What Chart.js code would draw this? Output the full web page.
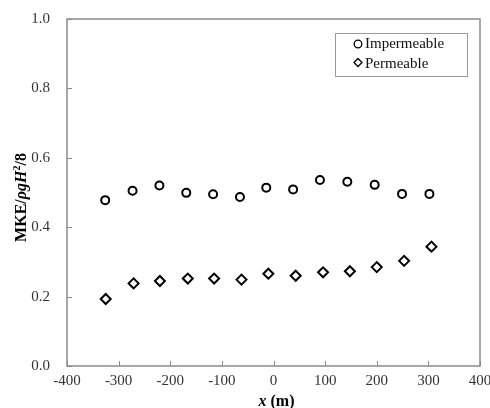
<!DOCTYPE html>
<html>
<head>
<meta charset="utf-8">
<script src="https://cdn.jsdelivr.net/npm/chart.js@4"></script>
<style>
  html, body { margin: 0; padding: 0; background: #fff; }
  #wrap { width: 490px; height: 408px; }
</style>
</head>
<body>
<div id="wrap"><canvas id="c" width="490" height="408"></canvas></div>
<script>
const impermeableX = [-326, -273, -221, -169, -117, -65, -14, 38, 90, 143, 196, 249, 302];
const impermeableY = [0.478, 0.505, 0.520, 0.499, 0.495, 0.487, 0.514, 0.509, 0.536, 0.531, 0.522, 0.496, 0.496];
const permeableX = [-325, -271, -220, -166, -115, -62, -10, 43, 96, 148, 200, 253, 306];
const permeableY = [0.193, 0.238, 0.245, 0.252, 0.252, 0.249, 0.266, 0.260, 0.270, 0.273, 0.285, 0.303, 0.344];
const seriesNames = ['Impermeable', 'Permeable'];
const xTitle = 'x (m)';
const yTitleParts = ['MKE/', 'ρgH', '2', '/8'];

const SERIF = '"Liberation Serif", "Times New Roman", serif';
const AXIS_GRAY = '#8a8a8a';

const decor = {
  id: 'decor',
  afterDraw(chart) {
    const ctx = chart.ctx;
    const a = chart.chartArea;
    const xs = chart.scales.x, ys = chart.scales.y;
    ctx.save();
    // frame
    ctx.strokeStyle = AXIS_GRAY;
    ctx.lineWidth = 1.5;
    ctx.strokeRect(a.left, a.top, a.right - a.left, a.bottom - a.top);
    // inward ticks
    ctx.lineWidth = 1;
    ctx.beginPath();
    ys.ticks.forEach(t => {
      const y = Math.round(ys.getPixelForValue(t.value)) + 0.5;
      ctx.moveTo(a.left, y); ctx.lineTo(a.left + 5, y);
    });
    xs.ticks.forEach(t => {
      const x = Math.round(xs.getPixelForValue(t.value)) + 0.5;
      ctx.moveTo(x, a.bottom); ctx.lineTo(x, a.bottom - 5);
    });
    ctx.stroke();

    // legend
    const lx = 335, ly = 33, lw = 132, lh = 43;
    ctx.fillStyle = '#fff';
    ctx.fillRect(lx, ly, lw, lh);
    ctx.strokeStyle = '#9a9a9a';
    ctx.lineWidth = 1;
    ctx.strokeRect(lx + 0.5, ly + 0.5, lw, lh);
    ctx.strokeStyle = '#000';
    ctx.lineWidth = 1.3;
    ctx.beginPath();
    ctx.arc(358, 44, 3.8, 0, Math.PI * 2);
    ctx.stroke();
    ctx.beginPath();
    ctx.moveTo(358, 58.5); ctx.lineTo(362, 62.5); ctx.lineTo(358, 66.5); ctx.lineTo(354, 62.5); ctx.closePath();
    ctx.stroke();
    ctx.fillStyle = '#111';
    ctx.font = '15px ' + SERIF;
    ctx.textBaseline = 'middle';
    ctx.textAlign = 'left';
    ctx.fillText(seriesNames[0], 365, 44);
    ctx.fillText(seriesNames[1], 365, 64);

    // x title
    ctx.fillStyle = '#000';
    ctx.textBaseline = 'alphabetic';
    const xi = 'bold italic 16px ' + SERIF, xb = 'bold 16px ' + SERIF;
    ctx.font = xi; const w1 = ctx.measureText('x').width;
    ctx.font = xb; const w2 = ctx.measureText(' (m)').width;
    let sx = (a.left + a.right) / 2 + 3 - (w1 + w2) / 2;
    ctx.font = xi; ctx.fillText('x', sx, 406);
    ctx.font = xb; ctx.fillText(' (m)', sx + w1, 406);

    // y title (rotated)
    ctx.translate(26, (a.top + a.bottom) / 2 + 5);
    ctx.rotate(-Math.PI / 2);
    const fonts = ['bold 16px ' + SERIF, 'bold italic 16px ' + SERIF, 'bold 10px ' + SERIF, 'bold 16px ' + SERIF];
    const widths = yTitleParts.map((p, i) => { ctx.font = fonts[i]; return ctx.measureText(p).width; });
    const total = widths.reduce((s, v) => s + v, 0);
    let px = -total / 2;
    yTitleParts.forEach((p, i) => {
      ctx.font = fonts[i];
      ctx.fillText(p, px, i === 2 ? -6 : 0);
      px += widths[i];
    });
    ctx.restore();
  }
};

new Chart(document.getElementById('c'), {
  type: 'scatter',
  data: {
    datasets: [
      {
        label: seriesNames[0],
        data: impermeableX.map((x, i) => ({ x, y: impermeableY[i] })),
        pointStyle: 'circle',
        pointRadius: 4,
        borderWidth: 2,
        borderColor: '#000',
        backgroundColor: '#fff'
      },
      {
        label: seriesNames[1],
        data: permeableX.map((x, i) => ({ x, y: permeableY[i] })),
        pointStyle: 'rectRot',
        pointRadius: 5,
        borderWidth: 2,
        borderColor: '#000',
        backgroundColor: '#fff'
      }
    ]
  },
  options: {
    responsive: false,
    animation: false,
    devicePixelRatio: 1,
    layout: { padding: { top: 19, right: 10, left: 0, bottom: 0 } },
    plugins: { legend: { display: false }, tooltip: { enabled: false } },
    scales: {
      x: {
        type: 'linear',
        min: -400, max: 400,
        ticks: { stepSize: 100, padding: 6, color: '#333', font: { family: SERIF, size: 15 } },
        grid: { display: false, drawTicks: false },
        border: { display: false },
        afterFit: s => { s.height = 42; s.paddingLeft = 0; s.paddingRight = 0; }
      },
      y: {
        type: 'linear',
        min: 0, max: 1,
        ticks: { stepSize: 0.2, padding: 17, color: '#333', font: { family: SERIF, size: 15 },
                 callback: v => Number(v).toFixed(1) },
        grid: { display: false, drawTicks: false },
        border: { display: false },
        afterFit: s => { s.width = 67; s.paddingTop = 0; s.paddingBottom = 0; }
      }
    }
  },
  plugins: [decor]
});
</script>
</body>
</html>
